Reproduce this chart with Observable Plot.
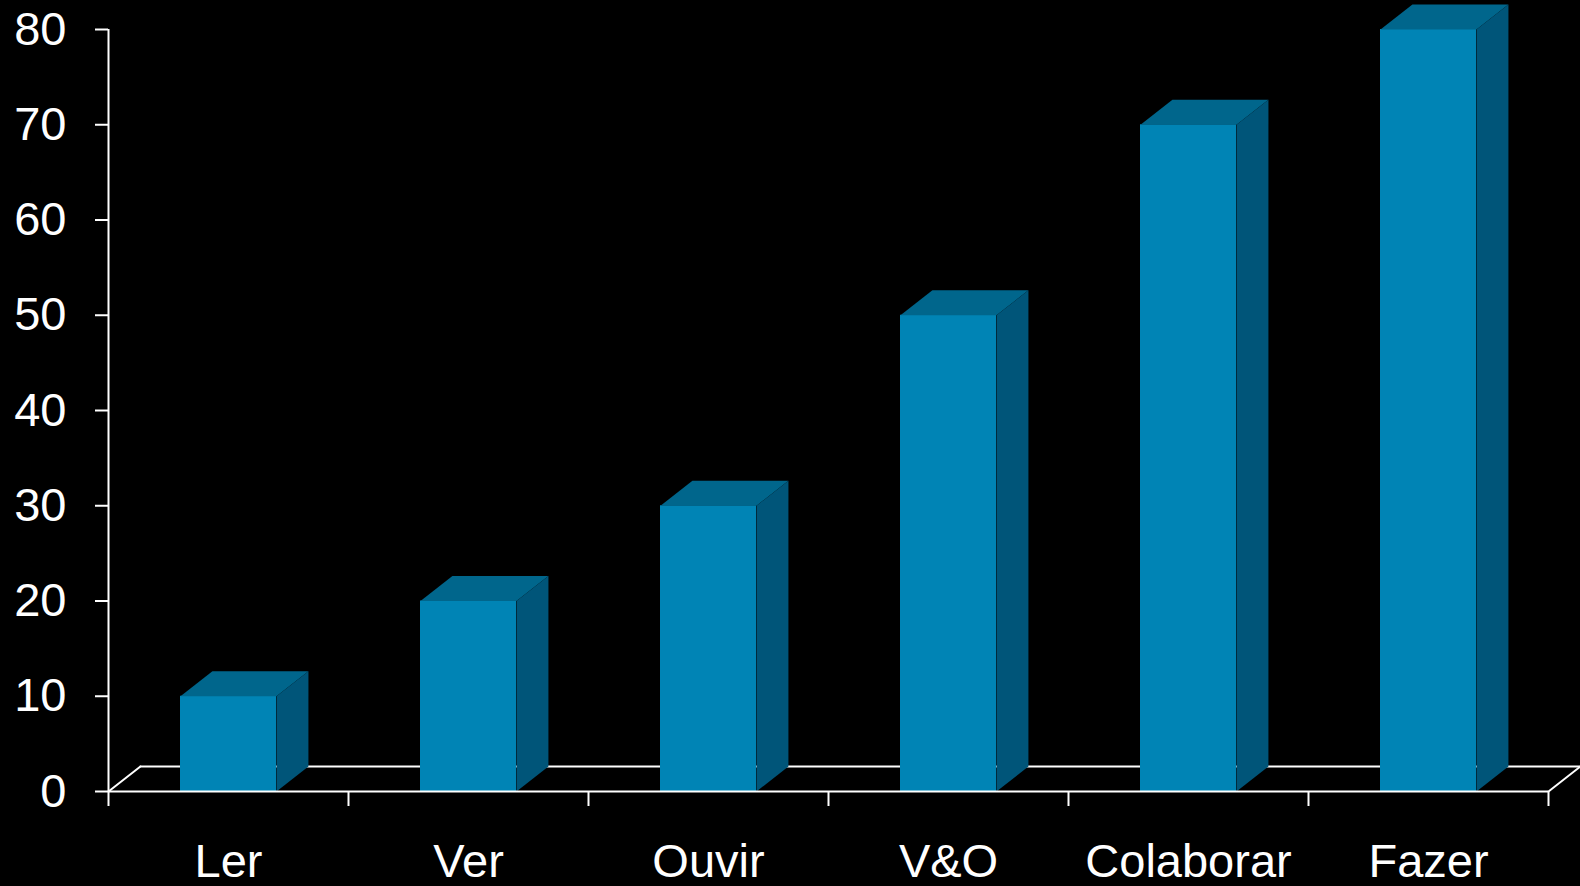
<!DOCTYPE html>
<html><head><meta charset="utf-8">
<script src="https://cdn.jsdelivr.net/npm/d3@7"></script>
<script src="https://cdn.jsdelivr.net/npm/@observablehq/plot@0.6"></script>
<style>html,body{margin:0;padding:0;background:#000;overflow:hidden}</style>
</head><body><div id="chart"></div>
<script>
const categories = ["Ler", "Ver", "Ouvir", "V&O", "Colaborar", "Fazer"];
const values = [10, 20, 30, 50, 70, 80];
const yTicks = [0, 10, 20, 30, 40, 50, 60, 70, 80];

const n = categories.length;
const DX = 0.133, DV = 2.63, W0 = 0.3, W1 = 0.7;
const bars = categories.map((c, i) => ({c, i, v: values[i]}));
const tops = bars.flatMap(b => [[b.i + W0, b.v], [b.i + W1, b.v], [b.i + W1 + DX, b.v + DV], [b.i + W0 + DX, b.v + DV]].map(([x, y]) => ({id: b.c, x, y})));
const sides = bars.flatMap(b => [[b.i + W1, 0], [b.i + W1, b.v], [b.i + W1 + DX, b.v + DV], [b.i + W1 + DX, DV]].map(([x, y]) => ({id: b.c, x, y})));
const floor = [
  {id: "back", x: DX, y: DV}, {id: "back", x: n + DX, y: DV},
  {id: "left", x: 0, y: 0}, {id: "left", x: DX, y: DV},
  {id: "right", x: n, y: 0}, {id: "right", x: n + DX, y: DV}
];

const chart = Plot.plot({
  width: 1580, height: 886,
  marginLeft: 108, marginRight: 32, marginTop: 29, marginBottom: 95,
  style: {background: "#000", color: "#fff", fontFamily: "'Liberation Sans', Arial, sans-serif", fontSize: "47px"},
  x: {domain: [0, n]},
  y: {domain: [0, 80]},
  marks: [
    Plot.line(floor, {x: "x", y: "y", z: "id", stroke: "#fff", strokeWidth: 2}),
    Plot.rectY(bars, {x1: d => d.i + W0, x2: d => d.i + W1, y1: 0, y2: "v", fill: "#0084B5"}),
    Plot.line(tops, {x: "x", y: "y", z: "id", fill: "#00668C", stroke: "none"}),
    Plot.line(sides, {x: "x", y: "y", z: "id", fill: "#005579", stroke: "none"}),
    Plot.ruleY([0], {stroke: "#fff", strokeWidth: 2}),
    Plot.ruleX([0], {stroke: "#fff", strokeWidth: 2}),
    Plot.axisY(yTicks, {tickSize: 13, tickPadding: 29, label: null, strokeWidth: 2, stroke: "#fff"}),
    Plot.axisX(d3.range(n + 1), {tickSize: 15, tickFormat: () => "", label: null, strokeWidth: 2, stroke: "#fff"}),
    Plot.axisX(categories.map((c, i) => i + 0.5), {tickSize: 0, tickPadding: 52, tickFormat: v => categories[Math.floor(v)], label: null})
  ]
});
document.getElementById("chart").append(chart);
</script>
</body></html>
